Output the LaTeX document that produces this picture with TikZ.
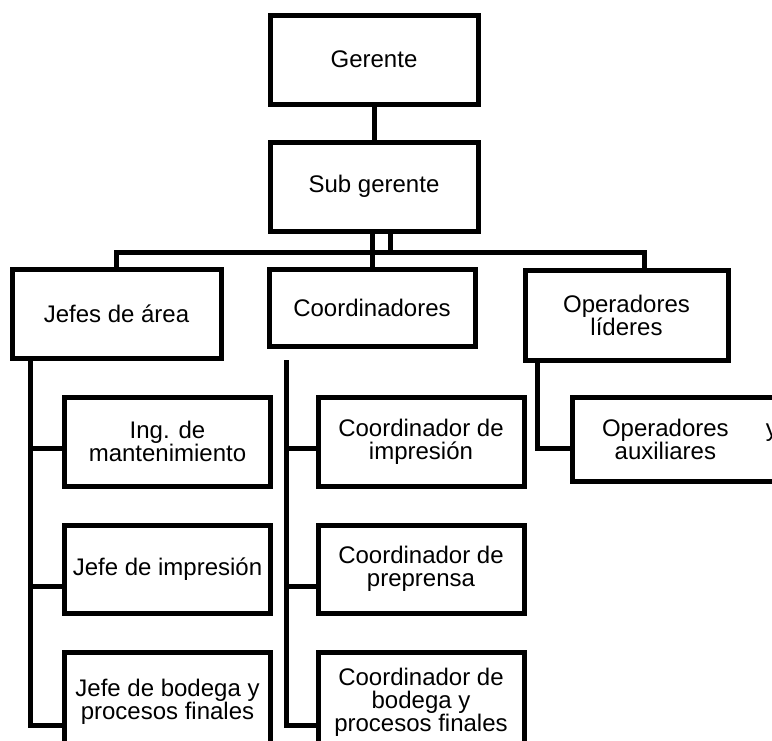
\documentclass[tikz,border=0pt]{standalone}
\usepackage{fontspec}
\setmainfont{Liberation Sans}
\usetikzlibrary{positioning}
\tikzset{caja/.style = {rectangle, draw, line width=2.5pt, inner sep=0pt, align=center, minimum width=104pt, minimum height=44.5pt, font=\fontsize{12}{11.5}\selectfont}}
\tikzset{hijo/.style = {caja, minimum width=103pt}}
\tikzset{linea/.style = {draw, line width=2.5pt}}

\begin{document}
\begin{tikzpicture}[x=0.5pt, y=-0.5pt, node distance=126.75pt]
    \useasboundingbox (0,0) rectangle (772,740);
    \clip (0,0) rectangle (772,740);
    % direccion
    \node[caja] (gerente) at (374,59.5) {Gerente};
    \node[caja] (sub) at (374,186.5) {Sub gerente};
    % areas
    \node[caja, minimum width=104.5pt] (jefes) at (116.5,313.5) {Jefes de área};
    \node[caja, minimum width=103pt, minimum height=38.5pt] (coord) at (372,307.5) {Coordinadores};
    \node[caja, minimum width=101.5pt, minimum height=45pt] (lider) at (626.5,315) {Operadores\\líderes};
    % jefes de area
    \node[hijo] (ing) at (167.5,441.5) {Ing. de\\mantenimiento};
    \node[hijo, minimum height=44pt] (jimp) at (167.5,569) {Jefe de impresión};
    \node[hijo, minimum height=50pt] (jbod) at (167.5,702) {Jefe de bodega y\\procesos finales};
    % coordinadores
    \node[hijo, right of=ing] (cimp) {Coordinador de\\impresión};
    \node[hijo, minimum height=44pt, right of=jimp] (cpre) {Coordinador de\\preprensa};
    \node[hijo, minimum height=50pt, right of=jbod] (cbod) {Coordinador de\\bodega y\\procesos finales};
    % operadores
    \node[caja, minimum width=118pt, minimum height=42pt] (opaux) at (690,439) {\parbox{88pt}{Operadores\hfill y\\\makebox[63.4pt]{auxiliares}}};

    \coordinate (bus) at (390,252);
    \path[linea] (gerente) -- (sub);
    \path[linea] (coord.north) -- (coord.north |- sub.south);
    \path[linea] (bus) -- (bus |- sub.south);
    \path[linea] (jefes.north) |- (bus) -| ([xshift=9pt]lider.north);

    \coordinate (tizq) at ([xshift=10.5pt]jefes.south west);
    \coordinate (tcen) at (286,360);
    \coordinate (tder) at ([xshift=7.5pt]lider.south west);
    \path[linea] (tizq) |- (jbod.west |- 0,725);
    \path[linea] (tizq |- 0,448) -- (ing.west |- 0,448);
    \path[linea] (tizq |- 0,586) -- (jimp.west |- 0,586);
    \path[linea] (tcen) |- (cbod.west |- 0,725);
    \path[linea] (tcen |- 0,448) -- (cimp.west |- 0,448);
    \path[linea] (tcen |- 0,586) -- (cpre.west |- 0,586);
    \path[linea] (tder) |- (opaux.west |- 0,448);
\end{tikzpicture}
\end{document}
